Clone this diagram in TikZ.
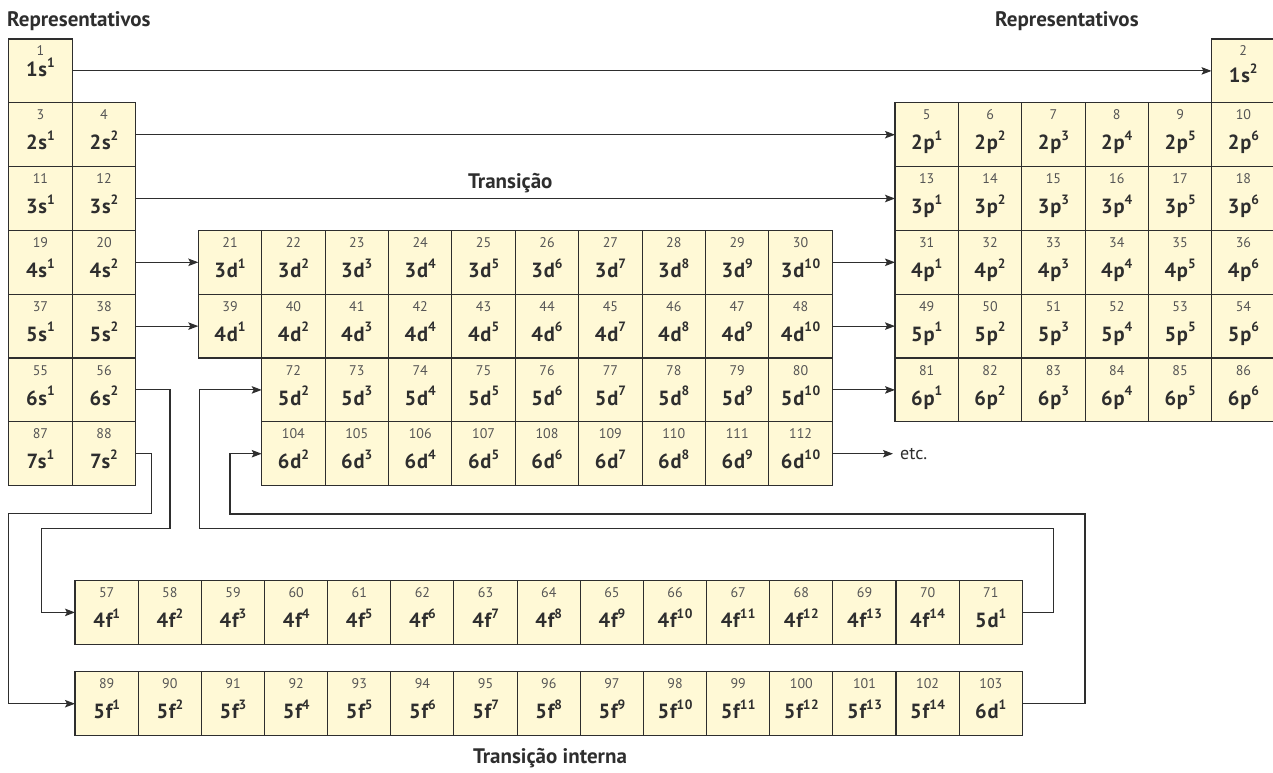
\documentclass[tikz,border=0pt]{standalone}
\usepackage{fontspec}
\setmainfont{PT Sans}
\usetikzlibrary{arrows.meta,calc}
\definecolor{cellfill}{HTML}{FFF9D6}
\definecolor{ink}{HTML}{2E2E2E}
\definecolor{numcol}{HTML}{555555}
\tikzset{
  cellbox/.style={draw=ink, line width=1.1pt, fill=cellfill, minimum width=63.4pt,
    minimum height=63.8pt, inner sep=0pt, outer sep=0pt, anchor=north west},
  numtxt/.style={text=numcol, font=\fontsize{14}{14}\selectfont, inner sep=0pt, anchor=base},
  lbltxt/.style={text=ink, font=\fontsize{20.5}{20.5}\selectfont\bfseries\addfontfeature{LetterSpace=4}, inner sep=0pt, anchor=base},
  link/.style={draw=ink, line width=1.1pt},
  arr/.style={link, -{Stealth[length=10pt,width=7.5pt,inset=2pt]}},
  title/.style={text=ink, font=\fontsize{21}{21}\selectfont\bfseries, inner sep=0pt, anchor=base west},
}
\newcommand\sups[1]{\raisebox{0.45em}{\fontsize{13.5}{13.5}\selectfont #1}}
% name, x, y (top-left), number, base, exponent, label baseline, number baseline
\newcommand\mkcell[8]{%
  \node[cellbox] (#1) at (#2,#3) {};
  \node[numtxt] (#1n) at ($(#1.north)+(0,#8)$) {#4};
  \node[lbltxt] (#1l) at ($(#1.north)+(0,#7)$) {#5\sups{#6}};
}
\begin{document}
\begin{tikzpicture}[x=1pt,y=-1pt]
\useasboundingbox (0,0) rectangle (1273,772);

% titles
\node[title] (t1) at (7,26) {Representativos};
\node[title] (t2) at (995,26) {Representativos};
\node[title] (t3) at (468,188) {Transição};
\node[title, anchor=base] (t4) at (550,763) {Transição interna};

% s-block
\mkcell{c1}{8.7}{39}{1}{1s}{1}{37.5}{16}
\foreach \n/\b/\e/\c/\r in {3/2s/1/0/2, 4/2s/2/1/2, 11/3s/1/0/3, 12/3s/2/1/3,
  19/4s/1/0/4, 20/4s/2/1/4, 37/5s/1/0/5, 38/5s/2/1/5, 55/6s/1/0/6, 56/6s/2/1/6,
  87/7s/1/0/7, 88/7s/2/1/7}{
  \pgfmathsetmacro\xx{8.7+\c*63.6}
  \pgfmathsetmacro\yy{39+(\r-1)*63.8}
  \mkcell{c\n}{\xx}{\yy}{\n}{\b}{\e}{47}{17}
}

% 1s2
\mkcell{c2}{1211.5}{39}{2}{1s}{2}{43.5}{16.5}

% p-block
\foreach \r/\s in {2/5,3/13,4/31,5/49,6/81}{
  \foreach \k in {1,...,6}{
    \pgfmathtruncatemacro\num{\s+\k-1}
    \pgfmathsetmacro\xx{895+(\k-1)*63.35}
    \pgfmathsetmacro\yy{39+(\r-1)*63.8}
    \mkcell{c\num}{\xx}{\yy}{\num}{\r p}{\k}{47}{17}
  }
}

% d-block
\foreach \r/\p/\s/\kk in {4/3/20/1, 5/4/38/1, 6/5/70/2, 7/6/102/2}{
  \foreach \k in {\kk,...,10}{
    \pgfmathtruncatemacro\num{\s+\k}
    \pgfmathsetmacro\xx{198.3+(\k-1)*63.4}
    \pgfmathsetmacro\yy{39+(\r-1)*63.8}
    \mkcell{c\num}{\xx}{\yy}{\num}{\p d}{\k}{47}{17}
  }
}

% f-block
\foreach \yy/\p/\s in {580.5/4/56, 671.8/5/88}{
  \foreach \k in {1,...,14}{
    \pgfmathtruncatemacro\num{\s+\k}
    \pgfmathsetmacro\xx{75+(\k-1)*63.15}
    \mkcell{c\num}{\xx}{\yy}{\num}{\p f}{\k}{47}{17}
  }
}
\mkcell{c71}{959.1}{580.5}{71}{5d}{1}{47}{17}
\mkcell{c103}{959.1}{671.8}{103}{6d}{1}{47}{17}

% connectors: straight arrows
\draw[arr] (c1.east) -- (c2.west);
\draw[arr] (c4.east) -- (c5.west);
\draw[arr] (c12.east) -- (c13.west);
\draw[arr] (c20.east) -- (c21.west);
\draw[arr] (c38.east) -- (c39.west);
\draw[arr] (c30.east) -- (c31.west);
\draw[arr] (c48.east) -- (c49.west);
\draw[arr] (c80.east) -- (c81.west);

\coordinate (etcx) at (893,0);
\draw[arr] (c112.east) -- (c112.east -| etcx);
\node[text=ink, font=\fontsize{18}{18}\selectfont, inner sep=0pt, anchor=west] (etc) at ($(c112.east -| etcx)+(7,0)$) {etc.};

% bent connectors
\coordinate (b56a) at (170,528.3);
\coordinate (b56b) at (41.7,528.3);
\coordinate (b88a) at (151.7,513.3);
\coordinate (b88b) at (8.3,513.3);
\coordinate (b71a) at (1053.3,528.3);
\coordinate (b71b) at (199.3,528.3);
\coordinate (b103a) at (1085,514);
\coordinate (b103b) at (230,514);

\draw[arr] (c56.east) -| (b56a) -- (b56b) |- (c57.west);
\draw[arr] (c88.east) -| (b88a) -- (b88b) |- (c89.west);
\draw[arr] (c71.east) -| (b71a) -- (b71b) |- (c72.west);
\draw[arr] (c103.east) -| (b103a) -- (b103b) |- (c104.west);
\end{tikzpicture}
\end{document}
